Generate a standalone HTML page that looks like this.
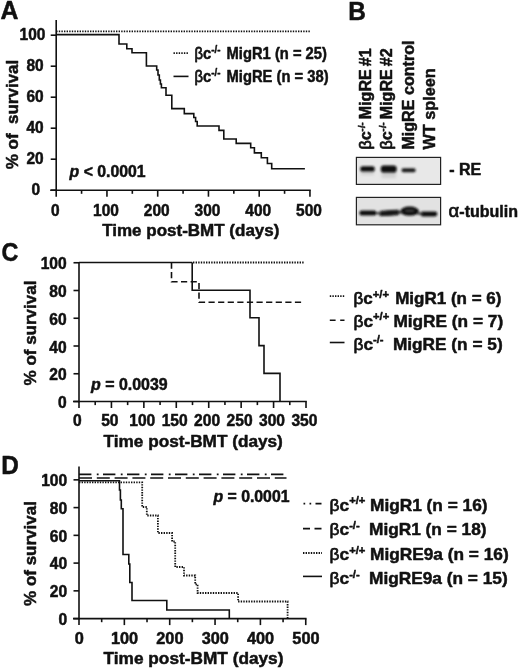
<!DOCTYPE html>
<html><head><meta charset="utf-8"><title>Figure</title>
<style>
html,body{margin:0;padding:0;background:#fff;}
svg{display:block;font-family:"Liberation Sans", Arial, sans-serif;font-weight:bold;fill:#111;stroke:none;}
svg text{stroke:#111;stroke-width:0.5px;stroke-linejoin:round;}
svg line, svg path{stroke:#111;}
</style></head><body>
<svg width="520" height="671" viewBox="0 0 520 671">
<defs><filter id="blur" x="-20%" y="-50%" width="140%" height="200%"><feGaussianBlur stdDeviation="0.95"/></filter><filter id="blur2" x="-30%" y="-60%" width="160%" height="220%"><feGaussianBlur stdDeviation="1.6"/></filter></defs>
<rect x="0" y="0" width="520" height="671" fill="#fff"/>
<text transform="translate(0.5 19.4) scale(0.985 1)" font-size="25.2" text-anchor="start" stroke-width="0.9">A</text>
<line x1="56.2" y1="20" x2="56.2" y2="191.0" stroke-width="1.6" />
<line x1="50.2" y1="190.2" x2="310.75" y2="190.2" stroke-width="1.6" />
<line x1="50.7" y1="190.2" x2="56.2" y2="190.2" stroke-width="1.6" />
<text transform="translate(40.2 195.17) scale(0.95 1)" font-size="16.3" text-anchor="end" >0</text>
<line x1="50.7" y1="159.2" x2="56.2" y2="159.2" stroke-width="1.6" />
<text transform="translate(43.7 164.17) scale(0.95 1)" font-size="16.3" text-anchor="end" >20</text>
<line x1="50.7" y1="128.2" x2="56.2" y2="128.2" stroke-width="1.6" />
<text transform="translate(43.7 133.17) scale(0.95 1)" font-size="16.3" text-anchor="end" >40</text>
<line x1="50.7" y1="97.19999999999999" x2="56.2" y2="97.19999999999999" stroke-width="1.6" />
<text transform="translate(43.7 102.17) scale(0.95 1)" font-size="16.3" text-anchor="end" >60</text>
<line x1="50.7" y1="66.19999999999999" x2="56.2" y2="66.19999999999999" stroke-width="1.6" />
<text transform="translate(43.7 71.17) scale(0.95 1)" font-size="16.3" text-anchor="end" >80</text>
<line x1="50.7" y1="35.19999999999999" x2="56.2" y2="35.19999999999999" stroke-width="1.6" />
<text transform="translate(45.4 40.17) scale(0.95 1)" font-size="16.3" text-anchor="end" >100</text>
<line x1="56.2" y1="190.2" x2="56.2" y2="196.7" stroke-width="1.6" />
<text transform="translate(55.2 215.9) scale(0.95 1)" font-size="16.3" text-anchor="middle" >0</text>
<line x1="106.95" y1="190.2" x2="106.95" y2="196.7" stroke-width="1.6" />
<text transform="translate(105.95 215.9) scale(0.95 1)" font-size="16.3" text-anchor="middle" >100</text>
<line x1="157.7" y1="190.2" x2="157.7" y2="196.7" stroke-width="1.6" />
<text transform="translate(156.7 215.9) scale(0.95 1)" font-size="16.3" text-anchor="middle" >200</text>
<line x1="208.45" y1="190.2" x2="208.45" y2="196.7" stroke-width="1.6" />
<text transform="translate(207.45 215.9) scale(0.95 1)" font-size="16.3" text-anchor="middle" >300</text>
<line x1="259.2" y1="190.2" x2="259.2" y2="196.7" stroke-width="1.6" />
<text transform="translate(258.2 215.9) scale(0.95 1)" font-size="16.3" text-anchor="middle" >400</text>
<line x1="309.95" y1="190.2" x2="309.95" y2="196.7" stroke-width="1.6" />
<text transform="translate(308.95 215.9) scale(0.95 1)" font-size="16.3" text-anchor="middle" >500</text>
<line x1="81.575" y1="190.2" x2="81.575" y2="193.79999999999998" stroke-width="1.6" />
<line x1="132.325" y1="190.2" x2="132.325" y2="193.79999999999998" stroke-width="1.6" />
<line x1="183.075" y1="190.2" x2="183.075" y2="193.79999999999998" stroke-width="1.6" />
<line x1="233.825" y1="190.2" x2="233.825" y2="193.79999999999998" stroke-width="1.6" />
<line x1="284.575" y1="190.2" x2="284.575" y2="193.79999999999998" stroke-width="1.6" />
<text transform="translate(17.5,114.5) rotate(-90)" font-size="17" text-anchor="middle" >% of&#160; survival</text>
<text x="102.2" y="235.5" font-size="17" text-anchor="start" >Time post-BMT (days)</text>
<line x1="56.2" y1="31.3" x2="311" y2="31.3" stroke-width="1.8" stroke-dasharray="1.4 1.2"/>
<path d="M56.2 34.6 H119 V44 H126.8 V48.8 H132 V52.8 H146.4 V66 H156.7 V70 H158 V75 H159.3 V80 H160.4 V84 H161.4 V87.8 H166 V95.3 H171.8 V108.6 H184.3 V113.6 H193.8 V117.5 H195.6 V121.5 H197.2 V126 H219 V130.4 H223.8 V139 H236.2 V143.4 H250.7 V147.7 H254.4 V152.9 H261.3 V157.8 H267.4 V163.5 H271.7 V168.7 H304.9" stroke-width="1.6" fill="none" />
<text x="69.6" y="177" font-size="15.8" text-anchor="start" ><tspan font-style="italic">p</tspan> &lt; 0.0001</text>
<line x1="173.5" y1="53.2" x2="188.5" y2="53.2" stroke-width="1.8" stroke-dasharray="1.4 1.2"/>
<line x1="173.5" y1="76.4" x2="188.5" y2="76.4" stroke-width="1.6" />
<text transform="translate(194.5 59.2) scale(0.905 1)" x="0" y="0" font-size="16.3"><tspan font-weight="normal" stroke-width="0.75">β</tspan>c<tspan font-size="10.8" dy="-5.9">-/-</tspan><tspan x="35.47" dy="5.9">MigR1 (n = 25)</tspan></text>
<text transform="translate(194.5 82.2) scale(0.905 1)" x="0" y="0" font-size="16.3"><tspan font-weight="normal" stroke-width="0.75">β</tspan>c<tspan font-size="10.8" dy="-5.9">-/-</tspan><tspan x="35.47" dy="5.9">MigRE (n = 38)</tspan></text>
<text transform="translate(348.2 19.7) scale(0.97 1)" font-size="25.2" text-anchor="start" stroke-width="0.8">B</text>
<text transform="translate(370.6,149.6) rotate(-90)" font-size="16.1" text-anchor="start" word-spacing="-1.6"><tspan font-weight="normal" stroke-width="0.75">β</tspan>c<tspan font-size="9.8" dy="-5.6">-/-</tspan><tspan dy="5.6"> </tspan>MigRE #1</text>
<text transform="translate(391.6,149.6) rotate(-90)" font-size="16.1" text-anchor="start" word-spacing="-1.6"><tspan font-weight="normal" stroke-width="0.75">β</tspan>c<tspan font-size="9.8" dy="-5.6">-/-</tspan><tspan dy="5.6"> </tspan>MigRE #2</text>
<text transform="translate(413.6,149.6) rotate(-90)" font-size="16.1" text-anchor="start" >MigRE control</text>
<text transform="translate(434.8,149.6) rotate(-90)" font-size="16.3" text-anchor="start" >WT spleen</text>
<rect x="356.4" y="157.4" width="84.2" height="27" fill="#e8e8e8" stroke="#222" stroke-width="1.2"/>
<rect x="356.4" y="197.4" width="84.2" height="27.4" fill="#e2e2e2" stroke="#222" stroke-width="1.2"/>
<g filter="url(#blur2)" stroke="none" opacity="0.55">
<rect x="361" y="170" width="13" height="5" fill="#bbb"/>
<rect x="381.5" y="171" width="14.5" height="7" fill="#bbb"/>
</g>
<g filter="url(#blur)" stroke="none">
<rect x="360.3" y="166.2" width="14.4" height="5.4" rx="2.2" fill="#101010"/>
<rect x="380.8" y="165.4" width="15.8" height="7.2" rx="2.8" fill="#080808"/>
<rect x="401.6" y="168.3" width="14" height="3.9" rx="1.6" fill="#1c1c1c"/>
<rect x="359.4" y="210.6" width="17" height="5" rx="2.4" fill="#0e0e0e"/>
<path d="M380 215.6 Q379 213.4 380 211.4 Q389 210.4 398.6 210.2 L398.6 214.6 Q389 215.8 380 215.6 Z" fill="#141414"/>
<ellipse cx="409.6" cy="211.2" rx="9.4" ry="4.6" fill="#0e0e0e"/>
<rect x="420.3" y="211.4" width="17" height="5" rx="2.4" fill="#0e0e0e"/>
<rect x="376" y="212" width="5" height="2.4" fill="#444"/>
<rect x="397.5" y="211" width="5" height="2.6" fill="#333"/>
<rect x="417" y="212.4" width="5" height="2.4" fill="#444"/>
</g>
<ellipse cx="409.6" cy="210.8" rx="5" ry="1.2" fill="#555" filter="url(#blur)" opacity="0.7"/>
<text x="449.2" y="175.2" font-size="16" text-anchor="start" >- RE</text>
<text x="448.6" y="217.3" font-size="16" text-anchor="start" ><tspan font-size="18.5" font-weight="normal" stroke-width="0.7">α</tspan>-tubulin</text>
<text transform="translate(1.4 260.7) scale(0.92 1)" font-size="25.4" text-anchor="start" stroke-width="0.8">C</text>
<line x1="79" y1="262.4" x2="79" y2="402.3" stroke-width="1.6" />
<line x1="73" y1="401.5" x2="306.81" y2="401.5" stroke-width="1.6" />
<line x1="73.5" y1="401.5" x2="79" y2="401.5" stroke-width="1.6" />
<text x="66.7" y="408.02" font-size="15.6" text-anchor="end" >0</text>
<line x1="73.5" y1="373.75" x2="79" y2="373.75" stroke-width="1.6" />
<text x="66.7" y="380.27" font-size="15.6" text-anchor="end" >20</text>
<line x1="73.5" y1="346.0" x2="79" y2="346.0" stroke-width="1.6" />
<text x="66.7" y="352.52" font-size="15.6" text-anchor="end" >40</text>
<line x1="73.5" y1="318.25" x2="79" y2="318.25" stroke-width="1.6" />
<text x="66.7" y="324.77" font-size="15.6" text-anchor="end" >60</text>
<line x1="73.5" y1="290.5" x2="79" y2="290.5" stroke-width="1.6" />
<text x="66.7" y="297.02" font-size="15.6" text-anchor="end" >80</text>
<line x1="73.5" y1="262.75" x2="79" y2="262.75" stroke-width="1.6" />
<text x="66.7" y="269.27" font-size="15.6" text-anchor="end" >100</text>
<line x1="79.0" y1="401.5" x2="79.0" y2="408.0" stroke-width="1.6" />
<text x="77.4" y="425.9" font-size="15.6" text-anchor="middle" >0</text>
<line x1="111.43" y1="401.5" x2="111.43" y2="408.0" stroke-width="1.6" />
<text x="109.83" y="425.9" font-size="15.6" text-anchor="middle" >50</text>
<line x1="143.86" y1="401.5" x2="143.86" y2="408.0" stroke-width="1.6" />
<text x="142.26" y="425.9" font-size="15.6" text-anchor="middle" >100</text>
<line x1="176.29" y1="401.5" x2="176.29" y2="408.0" stroke-width="1.6" />
<text x="174.69" y="425.9" font-size="15.6" text-anchor="middle" >150</text>
<line x1="208.72" y1="401.5" x2="208.72" y2="408.0" stroke-width="1.6" />
<text x="207.12" y="425.9" font-size="15.6" text-anchor="middle" >200</text>
<line x1="241.15" y1="401.5" x2="241.15" y2="408.0" stroke-width="1.6" />
<text x="239.55" y="425.9" font-size="15.6" text-anchor="middle" >250</text>
<line x1="273.58" y1="401.5" x2="273.58" y2="408.0" stroke-width="1.6" />
<text x="271.98" y="425.9" font-size="15.6" text-anchor="middle" >300</text>
<line x1="306.01" y1="401.5" x2="306.01" y2="408.0" stroke-width="1.6" />
<text x="304.41" y="425.9" font-size="15.6" text-anchor="middle" >350</text>
<line x1="95.215" y1="401.5" x2="95.215" y2="405.1" stroke-width="1.6" />
<line x1="127.645" y1="401.5" x2="127.645" y2="405.1" stroke-width="1.6" />
<line x1="160.075" y1="401.5" x2="160.075" y2="405.1" stroke-width="1.6" />
<line x1="192.505" y1="401.5" x2="192.505" y2="405.1" stroke-width="1.6" />
<line x1="224.935" y1="401.5" x2="224.935" y2="405.1" stroke-width="1.6" />
<line x1="257.365" y1="401.5" x2="257.365" y2="405.1" stroke-width="1.6" />
<line x1="289.79499999999996" y1="401.5" x2="289.79499999999996" y2="405.1" stroke-width="1.6" />
<text transform="translate(36.2,333) rotate(-90)" font-size="17" text-anchor="middle" >% of survival</text>
<text x="103.6" y="446.5" font-size="17.2" text-anchor="start" >Time post-BMT (days)</text>
<line x1="79" y1="262.5" x2="192.2" y2="262.5" stroke-width="1.6" />
<line x1="193" y1="262.5" x2="304" y2="262.5" stroke-width="1.8" stroke-dasharray="1.4 1.2"/>
<path d="M171.5 262.5 V281.8 H199 V302.3 H304" stroke-width="1.6" fill="none" stroke-dasharray="6.2 3.4"/>
<path d="M192.2 262.5 V290.3 H250 V317.7 H259 V345.6 H264 V373.4 H280 V401.2" stroke-width="1.6" fill="none" />
<text x="91" y="389.5" font-size="15.95" text-anchor="start" ><tspan font-style="italic">p</tspan> = 0.0039</text>
<line x1="329.8" y1="296.2" x2="344.5" y2="296.2" stroke-width="1.8" stroke-dasharray="1.4 1.2"/>
<line x1="329.8" y1="320.2" x2="344.5" y2="320.2" stroke-width="1.6" stroke-dasharray="5.8 4.6"/>
<line x1="329.8" y1="342.5" x2="344.5" y2="342.5" stroke-width="1.6" />
<text  x="353.5" y="303.8" font-size="17.0"><tspan font-weight="normal" stroke-width="0.75">β</tspan>c<tspan font-size="11.2" dy="-6.1">+/+</tspan><tspan x="395.2" dy="6.1">MigR1 (n = 6)</tspan></text>
<text  x="353.5" y="326.6" font-size="17.25"><tspan font-weight="normal" stroke-width="0.75">β</tspan>c<tspan font-size="11.2" dy="-6.2">+/+</tspan><tspan x="393.4" dy="6.2">MigRE (n = 7)</tspan></text>
<text  x="353.5" y="349.6" font-size="17.25"><tspan font-weight="normal" stroke-width="0.75">β</tspan>c<tspan font-size="11.2" dy="-6.2">-/-</tspan><tspan x="392.9" dy="6.2">MigRE (n = 5)</tspan></text>
<text transform="translate(1.2 474.2) scale(0.96 1)" font-size="25.4" text-anchor="start" stroke-width="0.8">D</text>
<line x1="79" y1="466.5" x2="79" y2="619.4" stroke-width="1.6" />
<line x1="73" y1="618.6" x2="306.55" y2="618.6" stroke-width="1.6" />
<line x1="73.5" y1="618.6" x2="79" y2="618.6" stroke-width="1.6" />
<text x="67.2" y="624.92" font-size="15.6" text-anchor="end" >0</text>
<line x1="73.5" y1="590.85" x2="79" y2="590.85" stroke-width="1.6" />
<text x="67.2" y="597.17" font-size="15.6" text-anchor="end" >20</text>
<line x1="73.5" y1="563.1" x2="79" y2="563.1" stroke-width="1.6" />
<text x="67.2" y="569.42" font-size="15.6" text-anchor="end" >40</text>
<line x1="73.5" y1="535.35" x2="79" y2="535.35" stroke-width="1.6" />
<text x="67.2" y="541.67" font-size="15.6" text-anchor="end" >60</text>
<line x1="73.5" y1="507.6" x2="79" y2="507.6" stroke-width="1.6" />
<text x="67.2" y="513.92" font-size="15.6" text-anchor="end" >80</text>
<line x1="73.5" y1="479.85" x2="79" y2="479.85" stroke-width="1.6" />
<text x="67.2" y="486.17" font-size="15.6" text-anchor="end" >100</text>
<line x1="79.0" y1="618.6" x2="79.0" y2="625.1" stroke-width="1.6" />
<text x="79.2" y="643.7" font-size="16.3" text-anchor="middle" >0</text>
<line x1="124.35" y1="618.6" x2="124.35" y2="625.1" stroke-width="1.6" />
<text x="124.55" y="643.7" font-size="16.3" text-anchor="middle" >100</text>
<line x1="169.7" y1="618.6" x2="169.7" y2="625.1" stroke-width="1.6" />
<text x="169.9" y="643.7" font-size="16.3" text-anchor="middle" >200</text>
<line x1="215.05" y1="618.6" x2="215.05" y2="625.1" stroke-width="1.6" />
<text x="215.25" y="643.7" font-size="16.3" text-anchor="middle" >300</text>
<line x1="260.4" y1="618.6" x2="260.4" y2="625.1" stroke-width="1.6" />
<text x="260.6" y="643.7" font-size="16.3" text-anchor="middle" >400</text>
<line x1="305.75" y1="618.6" x2="305.75" y2="625.1" stroke-width="1.6" />
<text x="305.95" y="643.7" font-size="16.3" text-anchor="middle" >500</text>
<line x1="101.675" y1="618.6" x2="101.675" y2="622.2" stroke-width="1.6" />
<line x1="147.025" y1="618.6" x2="147.025" y2="622.2" stroke-width="1.6" />
<line x1="192.375" y1="618.6" x2="192.375" y2="622.2" stroke-width="1.6" />
<line x1="237.725" y1="618.6" x2="237.725" y2="622.2" stroke-width="1.6" />
<line x1="283.07500000000005" y1="618.6" x2="283.07500000000005" y2="622.2" stroke-width="1.6" />
<text transform="translate(36.3,553.5) rotate(-90)" font-size="17" text-anchor="middle" >% of survival</text>
<text x="103.6" y="663.5" font-size="17.25" text-anchor="start" >Time post-BMT (days)</text>
<line x1="79" y1="474.3" x2="286.5" y2="474.3" stroke-width="1.7" stroke-dasharray="12.4 5.4 1.8 4.4"/>
<line x1="79" y1="478" x2="286.5" y2="478" stroke-width="1.7" stroke-dasharray="13 4.8"/>
<path d="M79 480.7 H119.5 V490 H120.4 V500 H121.3 V508.7 H123 V554.5 H128.8 V564 H129.8 V582.5 H132 V600.5 H166.8 V610 H229.3 V618.6" stroke-width="1.6" fill="none" />
<path d="M79 482.4 H142.2 V507 H146.8 V515.5 H157.9 V533 H172.1 V541.5 H175.2 V567 H184 V575.5 H195.2 V584.3 H197.6 V593 H238.1 V601.5 H287.6 V618.6" stroke-width="1.8" fill="none" stroke-dasharray="1.4 1.2"/>
<text x="213.5" y="502" font-size="15.8" text-anchor="start" ><tspan font-style="italic">p</tspan> = 0.0001</text>
<line x1="303.5" y1="503.6" x2="321.5" y2="503.6" stroke-width="1.8" stroke-dasharray="1.7 4.3 1.7 4.3 6.5 0"/>
<line x1="303" y1="528.6" x2="322" y2="528.6" stroke-width="1.6" stroke-dasharray="7 4.5"/>
<line x1="303" y1="553" x2="322" y2="553" stroke-width="1.8" stroke-dasharray="1.4 1.2"/>
<line x1="303" y1="576.4" x2="322" y2="576.4" stroke-width="1.6" />
<text  x="329.6" y="510.6" font-size="17.28"><tspan font-weight="normal" stroke-width="0.75">β</tspan>c<tspan font-size="11.2" dy="-6.2">+/+</tspan><tspan x="370" dy="6.2">MigR1 (n = 16)</tspan></text>
<text  x="329.6" y="535.2" font-size="17.28"><tspan font-weight="normal" stroke-width="0.75">β</tspan>c<tspan font-size="11.2" dy="-6.2">-/-</tspan><tspan x="369" dy="6.2">MigR1 (n = 18)</tspan></text>
<text  x="329.6" y="559.8" font-size="17.28"><tspan font-weight="normal" stroke-width="0.75">β</tspan>c<tspan font-size="11.2" dy="-6.2">+/+</tspan><tspan x="370" dy="6.2">MigRE9a (n = 16)</tspan></text>
<text  x="329.6" y="584.4" font-size="17.28"><tspan font-weight="normal" stroke-width="0.75">β</tspan>c<tspan font-size="11.2" dy="-6.2">-/-</tspan><tspan x="369" dy="6.2">MigRE9a (n = 15)</tspan></text>
</svg>
</body></html>
